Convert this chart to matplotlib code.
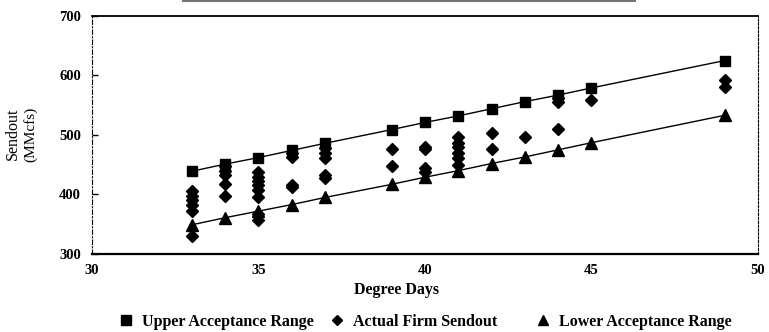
"""
Sendout vs Degree Days - acceptance range chart
"""
import matplotlib
matplotlib.use('Agg')
import matplotlib.pyplot as plt
from matplotlib.lines import Line2D

plt.rcParams['font.family'] = ['Liberation Serif', 'DejaVu Serif']

# 上下限 (acceptance range)
range_days = [33, 34, 35, 36, 37, 39, 40, 41, 42, 43, 44, 45, 49]
upper_range = [439, 451, 462, 474, 486, 509, 521, 532, 544, 556, 567, 579, 625]
lower_range = [349, 361, 372, 383, 395, 417, 429, 440, 452, 463, 475, 487, 533]

# 实际发送量 (actual firm sendout), one list per degree-day value
sendout = {
    33: [406, 398, 390, 382, 372, 330],
    34: [447, 440, 432, 418, 398],
    35: [438, 430, 423, 416, 408, 396, 368, 357],
    36: [470, 463, 416, 412],
    37: [478, 470, 462, 433, 427],
    39: [476, 447],
    40: [480, 477, 445, 437],
    41: [496, 487, 479, 470, 461, 450],
    42: [503, 476],
    43: [497],
    44: [562, 556, 510],
    45: [559],
    49: [592, 580],
}

y_ticks = [300, 400, 500, 600, 700]
x_ticks = [30, 35, 40, 45, 50]

fig = plt.figure(figsize=(7.69, 3.32), dpi=100)
ax = fig.add_axes([0.1196, 0.235, 0.866, 0.717])

actual_x = [d for d, vals in sendout.items() for _ in vals]
actual_y = [v for vals in sendout.values() for v in vals]

ax.plot(range_days, upper_range, color='black', linewidth=1, marker='s',
        markersize=7.8, zorder=3)
ax.plot(range_days, lower_range, color='black', linewidth=1, marker='^',
        markersize=8, zorder=3)
ax.plot(actual_x, actual_y, linestyle='none', color='black', marker='D',
        markersize=5.8, zorder=4)

ax.set_xlim(30, 50)
ax.set_ylim(300, 700)
ax.set_xticks(x_ticks)
ax.set_yticks(y_ticks)
ax.tick_params(axis='x', length=0, pad=7)
ax.tick_params(axis='y', direction='in', length=4, width=1, pad=8)
for lbl in ax.get_xticklabels() + ax.get_yticklabels():
    lbl.set_fontsize(10.5)
    lbl.set_fontweight('bold')

ax.spines['top'].set_linewidth(1.3)
ax.spines['bottom'].set_linewidth(1.6)
ax.spines['left'].set_linestyle((0, (4, 2, 1, 2)))
ax.spines['right'].set_linestyle((0, (2, 1.5)))

fig.text(0.516, 0.127, 'Degree Days', fontsize=11.5, fontweight='bold',
         ha='center', va='center')
fig.text(0.017, 0.596, 'Sendout', rotation=90, fontsize=11.5,
         ha='center', va='center')
fig.text(0.040, 0.596, '(MMcfs)', rotation=90, fontsize=11,
         ha='center', va='center')

# 顶部残留标题线
fig.add_artist(Line2D([0.238, 0.826], [0.998, 0.998], color='0.45',
                      linewidth=1.5, transform=fig.transFigure))

entries = [
    (Line2D([], [], color='black', marker='s', linestyle='none', markersize=7),
     'Upper Acceptance Range', 0.1534),
    (Line2D([], [], color='black', marker='D', linestyle='none', markersize=5),
     'Actual Firm Sendout', 0.4278),
    (Line2D([], [], color='black', marker='^', linestyle='none', markersize=7),
     'Lower Acceptance Range', 0.6957),
]
for handle, text, xpos in entries:
    fig.legend([handle], [text], loc='center left',
               bbox_to_anchor=(xpos, 0.030), frameon=False,
               handlelength=1.0, handletextpad=0.5, borderpad=0,
               borderaxespad=0, prop={'size': 11.5, 'weight': 'bold'})

plt.savefig('out.png', dpi=100)
plt.close()
